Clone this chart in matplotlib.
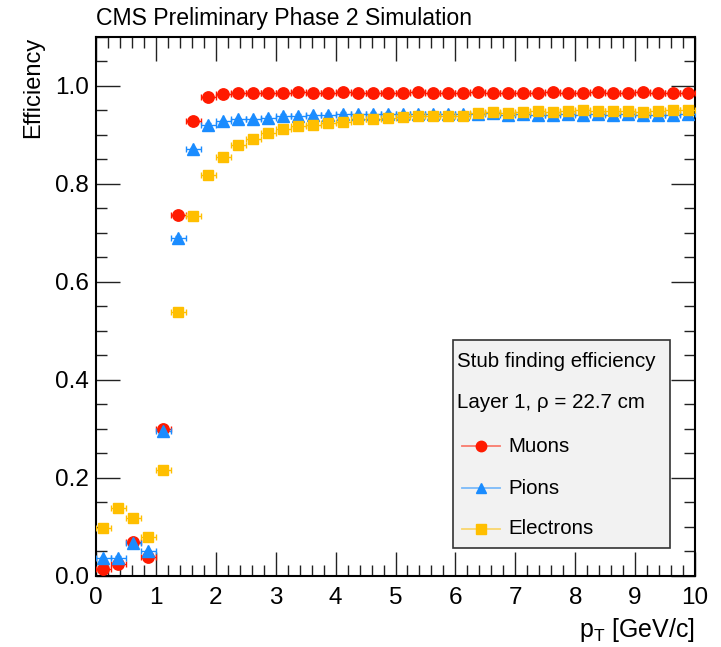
import numpy as np
import matplotlib
matplotlib.use("Agg")
import matplotlib.pyplot as plt
from matplotlib.ticker import MultipleLocator, FormatStrFormatter
from matplotlib.lines import Line2D
from matplotlib.patches import Rectangle

plt.rcParams['font.family'] = ['Liberation Sans', 'DejaVu Sans']

bin_width = 0.25
pt = np.arange(0.125, 10.0, bin_width)

muons = [0.014, 0.024, 0.070, 0.039, 0.299, 0.737, 0.929, 0.978,
         0.984, 0.985, 0.986, 0.986, 0.986, 0.987, 0.986, 0.986,
         0.987, 0.986, 0.986, 0.985, 0.986, 0.987, 0.986, 0.986,
         0.986, 0.987, 0.986, 0.985, 0.986, 0.985, 0.987, 0.986,
         0.986, 0.987, 0.986, 0.986, 0.987, 0.986, 0.986, 0.985]
pions = [0.036, 0.037, 0.067, 0.051, 0.296, 0.690, 0.870, 0.920,
         0.928, 0.932, 0.932, 0.935, 0.939, 0.939, 0.940, 0.941,
         0.943, 0.942, 0.943, 0.943, 0.942, 0.942, 0.942, 0.942,
         0.943, 0.943, 0.944, 0.940, 0.942, 0.940, 0.941, 0.942,
         0.940, 0.942, 0.941, 0.943, 0.941, 0.940, 0.940, 0.942]
electrons = [0.098, 0.139, 0.119, 0.079, 0.217, 0.539, 0.735, 0.818,
             0.854, 0.879, 0.892, 0.903, 0.912, 0.917, 0.920, 0.924,
             0.927, 0.932, 0.933, 0.934, 0.937, 0.939, 0.939, 0.938,
             0.939, 0.945, 0.947, 0.945, 0.946, 0.948, 0.947, 0.948,
             0.950, 0.948, 0.948, 0.948, 0.946, 0.948, 0.950, 0.951]
yerr_small = 0.003

series_names = ["Muons", "Pions", "Electrons"]
series_vals = [muons, pions, electrons]
colors = ['#ff1a00', '#1a8cff', '#ffbf00']
markers = ['o', '^', 's']
msizes = [8.2, 9.0, 7.8]

W, H = 721, 647
fig = plt.figure(figsize=(W/100, H/100), dpi=100)
ax = fig.add_axes([96/W, 1 - 576/H, (695-96)/W, (576-36.7)/H])

for name, vals, col, mk, ms in zip(series_names, series_vals, colors, markers, msizes):
    ax.errorbar(pt, vals, xerr=bin_width/2, yerr=yerr_small, fmt=mk, color=col,
                ms=ms, mec=col, ecolor=col, elinewidth=1.0, capsize=2.5,
                capthick=1.0, zorder=3)

ax.set_xlim(0, 10)
ax.set_ylim(0, 1.1)
ax.xaxis.set_major_locator(MultipleLocator(1))
ax.xaxis.set_minor_locator(MultipleLocator(0.2))
ax.yaxis.set_major_locator(MultipleLocator(0.2))
ax.yaxis.set_minor_locator(MultipleLocator(0.05))
ax.yaxis.set_major_formatter(FormatStrFormatter('%.1f'))
ax.tick_params(which='both', direction='in', top=True, right=True,
               labelsize=17.5, width=1.0, color='#222222')
ax.tick_params(which='major', length=17)
ax.tick_params(which='minor', length=8)
ax.tick_params(axis='x', pad=8)
ax.tick_params(axis='y', pad=5)
for s in ax.spines.values():
    s.set_linewidth(1.5)

ax.set_ylabel("Efficiency", fontsize=17)
ax.yaxis.set_label_coords(-0.087, 1.0)
ax.yaxis.label.set_horizontalalignment('right')
ax.set_xlabel(r"p$_{\mathregular{T}}$ [GeV/c]", fontsize=18)
ax.xaxis.set_label_coords(1.0, -0.075)
ax.xaxis.label.set_horizontalalignment('right')

fig.text(96/W, 1 - 19/H, "CMS Preliminary Phase 2 Simulation",
         fontsize=16.6, ha='left', va='center')

# legend box (drawn manually in figure pixel coordinates)
def fx(x):
    return x / W

def fy(y):
    return 1 - y / H

fig.patches.append(Rectangle((fx(453), fy(548)), fx(670) - fx(453), fy(340) - fy(548),
                             transform=fig.transFigure, facecolor='#f2f2f2',
                             edgecolor='#333333', lw=1.2, zorder=5))
leg_fs = 14.8
fig.text(fx(457), fy(361), "Stub finding efficiency", fontsize=leg_fs,
         ha='left', va='center', zorder=6)
fig.text(fx(457), fy(403), "Layer 1, \u03c1 = 22.7 cm", fontsize=leg_fs,
         ha='left', va='center', zorder=6)
rows_y = [446, 488, 529]
for name, col, mk, yy in zip(series_names, colors, markers, rows_y):
    fig.add_artist(Line2D([fx(462), fx(500)], [fy(yy), fy(yy)], color=col, alpha=0.55,
                          lw=1.3, transform=fig.transFigure, zorder=6))
    fig.add_artist(Line2D([fx(481)], [fy(yy)], color=col, marker=mk, ms=7.5,
                          mec=col, lw=0, transform=fig.transFigure, zorder=7))
    fig.text(fx(508), fy(yy), name, fontsize=leg_fs, ha='left', va='center', zorder=6)

fig.savefig("out.png", dpi=100)
